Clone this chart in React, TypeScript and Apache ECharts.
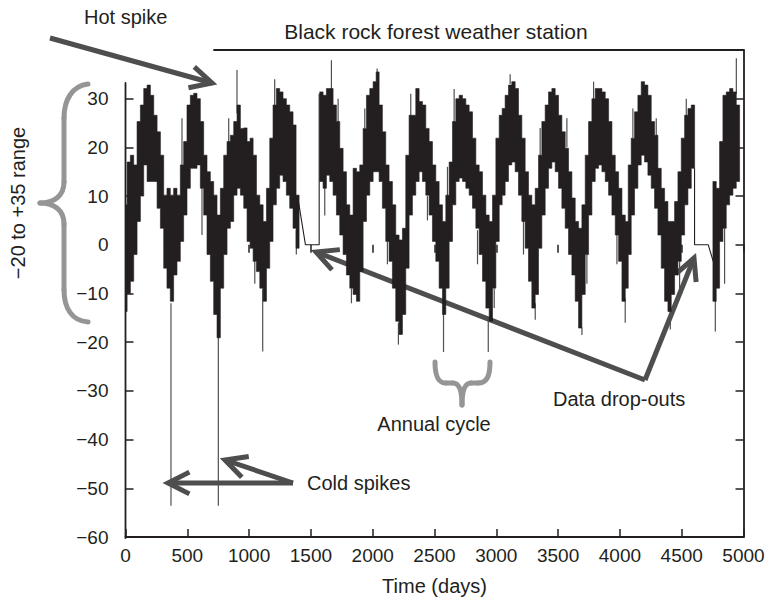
import React, { useEffect, useRef } from 'react';
import * as echarts from 'echarts';

// ---- data ----
// envelope of the daily temperature trace (one sample every ~27 days)
const envDay = [
  0, 26, 53, 80, 107, 134, 161, 188, 215, 242, 269, 296, 322, 349, 376, 403, 430, 457, 484, 511,
  538, 565, 592, 619, 646, 673, 700, 727, 754, 781, 808, 835, 862, 889, 916, 943, 970, 997,
  1019, 1046, 1073, 1100, 1127, 1154, 1180, 1207, 1234, 1261, 1288, 1315, 1342, 1369, 1391,
  1585, 1612, 1639, 1666, 1693, 1720, 1747, 1774, 1801, 1828, 1855, 1882, 1909, 1936, 1963, 1990, 2017,
  2039, 2065, 2092, 2119, 2146, 2173, 2200, 2227, 2254, 2281, 2308, 2335, 2362, 2389, 2416, 2443, 2470,
  2497, 2524, 2551, 2578, 2605, 2632, 2659, 2686, 2713, 2740, 2767, 2794, 2821, 2848, 2875, 2902, 2929,
  2956, 2983, 3010, 3037,
  3058, 3085, 3112, 3139, 3166, 3193, 3220, 3247, 3274, 3301, 3328, 3355, 3382, 3409, 3436, 3463, 3490,
  3517, 3544, 3571, 3598, 3625, 3652, 3679, 3706, 3733, 3760, 3787, 3814, 3841, 3868, 3895, 3922, 3949,
  3976, 4003, 4030, 4057,
  4078, 4105, 4132, 4159, 4186, 4213, 4240, 4267, 4294, 4321, 4348, 4375, 4402, 4429, 4456, 4483, 4510,
  4537, 4564, 4591,
  4766, 4793, 4820, 4847, 4874, 4901, 4928, 4955,
];
const envHigh = [
  8.2, 17, 18.4, 16.4, 25.3, 28.7, 32.1, 32.8, 30.7, 26.6, 23.2, 18.4, 10.2, 11.6, 10.2, 11.6, 10.2, 16.4, 21.2, 28.7,
  30.7, 31.1, 30, 25.3, 18.4, 15, 13, 10.2, 6.1, 11.6, 18.4, 21.2, 22.5, 25.3, 28.7, 23.9, 24, 21.2,
  21.9, 18.4, 10.2, 8.2, 4.8, 11.6, 21.9, 28.7, 32.1, 31.4, 30, 28.7, 27.3, 24.6, 10.2,
  31.4, 30.7, 32.1, 32.1, 28.7, 25.3, 19.8, 15, 8.2, 6.1, 15.7, 15, 16.4, 23.9, 30.7, 32.1, 33.5,
  35.5, 28.7, 23.2, 16.4, 13, 8.2, 2, 1, 3.4, 18.4, 26.6, 26.6, 32.1, 29.4, 28.7, 23.9, 21.2,
  16.4, 13, 8.2, 4.8, 10.2, 17, 25.3, 30, 30.7, 30, 28.7, 27.3, 21.9, 16.4, 15, 10.2, 6.1,
  4.8, 10.2, 21.9, 26.6,
  28, 30.7, 32.8, 33.5, 32.1, 26.6, 21.9, 15, 10.2, 8.2, 11.6, 18.4, 25.3, 28.7, 31.4, 32.1, 30.7,
  26.6, 23.2, 19.8, 15, 9.6, 4.8, 3.4, 8.2, 18.4, 25.3, 30, 32.1, 32.1, 31.4, 30, 25.3, 18.4,
  15, 11.6, 6.1, 4.8,
  16.4, 21.9, 27.3, 30.7, 33.5, 32.8, 30.7, 25.3, 22.5, 15.7, 11.6, 8.9, 4.8, 4.8, 8.9, 15, 21.9,
  26.6, 28, 28.7,
  13, 11.6, 21.2, 30.7, 31.4, 32.1, 31.4, 28.7,
];
const envLow = [
  -13.7, -10, -7.5, -2, 4.8, 10, 16.4, 13, 13, 13, 7.5, 3.4, -4.8, -8.9, -11.6, -6.2, -3.4, 0.7, 6.1, 11.6,
  15.7, 15.7, 16.4, 11.6, 6.1, -2, -7.5, -14.3, -19.1, -8.9, -2, 3.4, 4.8, 10.2, 11.6, 10.2, 7.5, 0.7,
  -0.7, -3.4, -5.5, -8.9, -11.6, -4.8, 0.7, 8.2, 11.6, 14.3, 13, 10.2, 7.5, 3.4, -0.7,
  13, 11.6, 14.3, 13, 10.2, 6.1, 2, -2, -6.2, -8.9, -10.2, -11.6, -5.5, 4.8, 10.2, 13, 15,
  15, 13, 7.5, 0.7, -3.4, -8.9, -15.7, -18.4, -14.3, -4.8, 6.1, 10.2, 13, 15, 13, 10.2, 6.1,
  0.7, -3.4, -8.9, -14.3, -8.9, 0.7, 8.2, 13, 13.7, 13, 11.6, 10.2, 7.5, 3.4, -2, -7.5, -13,
  -15.7, -8.9, 0.7, 8.2,
  10.2, 13, 16.4, 17, 15, 10.2, 4.8, -0.7, -7.5, -13, -10.2, -0.7, 6.1, 11.6, 15.7, 17, 15,
  11.6, 7.5, 3.4, -2, -6.2, -11.6, -17.1, -10.2, -2, 6.1, 13, 15.7, 16.4, 15, 13, 10.2, 6.1,
  2, -3.4, -11.6, -8.9,
  -2, 6.1, 11.6, 16.4, 18.4, 17, 14.3, 11.6, 7.5, 2, -4.8, -11.6, -13.7, -10.2, -6.2, -3.4, 2,
  8.2, 11.6, 15.7,
  -11.6, -8.9, 0.7, 3.4, 8.2, 10.2, 11.6, 13,
];

// isolated hot / cold spikes: day, value the stroke leaves the band at, spike value
const spikeDay = [368, 751, 902, 1110, 1666, 2036, 2208, 2573, 2935, 3315, 3693, 4043, 4408, 4772, 4942,
  457, 619, 835, 1046, 1207, 1382, 1612, 1720, 1828, 1936, 2119, 2308, 2443, 2605, 2659, 2848, 2983,
  3112, 3220, 3355, 3571, 3733, 3787, 3976, 4105, 4294, 4483, 4537, 4847];
const spikeFrom = [-12, -19, 27, -9, 32, 34, -16, -14, -15, -12, -17, -11, -13, -11, 31,
  16, 11.6, 21, -3.4, 28.7, 3, 11.6, 25, -9, 24, 0.7, 26, 10, 10, 25, 3, -9,
  33, 5, 18, 20, -2, 30, 2, 22, 22, -3.4, 26, 3.4];
const spikeTo = [-53.6, -53.6, 35.9, -21.9, 37.9, 36.2, -20.5, -22, -22, -15.4, -18.5, -16, -17.4, -17.8, 38.3,
  26, 2, 26, -8, 34, -2, 6, 30, -12, 28, -4, 31, 5, 16, 32, -4, -13,
  35, -2, 24, 26, -8, 33.5, -4, 28, 26, -10, 30, -8];

// data drop-outs (straight line joins across missing data)
const gap1Day = [1391, 1456, 1567, 1567];
const gap1Val = [10.2, 0, 0, 31];
const gap2Day = [4604, 4604, 4715, 4755];
const gap2Val = [15.7, 0, 0, -3.4];

const yTickValues = [-60, -50, -40, -30, -20, -10, 0, 10, 20, 30];
const topTickValues = [1000, 1500, 2000, 2500, 3000, 3500, 4000, 4500, 5000];

const FONT = '"Liberation Sans", Arial, Helvetica, sans-serif';
const INK = '#231f20';
const ARROW = '#4e4e4e';
const BRACE = '#959595';

function txt(text: string, x: number, y: number, align: string, size = 20, rotation = 0) {
  return {
    type: 'text', x, y, rotation, silent: true,
    style: {
      text, fill: INK, fontSize: size, fontFamily: FONT,
      textAlign: align, align, textVerticalAlign: 'middle', verticalAlign: 'middle',
    },
  };
}

function arrow(tx: number, ty: number, hx: number, hy: number, len = 24, ang = 0.47) {
  const a = Math.atan2(ty - hy, tx - hx);
  const w1 = [hx + len * Math.cos(a + ang), hy + len * Math.sin(a + ang)];
  const w2 = [hx + len * Math.cos(a - ang), hy + len * Math.sin(a - ang)];
  return [
    { type: 'line', silent: true, shape: { x1: tx, y1: ty, x2: hx, y2: hy }, style: { stroke: ARROW, lineWidth: 5 } },
    { type: 'polyline', silent: true, shape: { points: [w1, [hx, hy], w2] }, style: { stroke: ARROW, lineWidth: 5, fill: null, lineJoin: 'miter' } },
  ];
}

function bez(x1: number, y1: number, cpx1: number, cpy1: number, cpx2: number, cpy2: number, x2: number, y2: number) {
  return { type: 'bezierCurve', silent: true, shape: { x1, y1, cpx1, cpy1, cpx2, cpy2, x2, y2 }, style: { stroke: BRACE, lineWidth: 5, fill: null, lineCap: 'round' } };
}
function seg(x1: number, y1: number, x2: number, y2: number, stroke = BRACE, lineWidth = 5) {
  return { type: 'line', silent: true, shape: { x1, y1, x2, y2 }, style: { stroke, lineWidth, lineCap: 'round' } };
}

// continuous runs of the envelope (split at the drop-outs)
function runs(): number[][] {
  const out: number[][] = [];
  let start = 0;
  for (let i = 1; i <= envDay.length; i++) {
    if (i === envDay.length || envDay[i] - envDay[i - 1] > 100) {
      out.push([start, i - 1]);
      start = i;
    }
  }
  return out;
}

export default function App() {
  const ref = useRef<HTMLDivElement>(null);
  useEffect(() => {
    if (!ref.current) return;
    const chart = echarts.init(ref.current, null, { renderer: 'svg' });
    const spikes = spikeDay.map((d, i) => [d, spikeFrom[i], spikeTo[i]]);
    const fmt = (v: number) => String(v).replace('-', '\u2212');
    const axisText = { fontSize: 19, color: INK, fontFamily: FONT };
    const bandRuns = runs().map(([s, e]) => [envDay[s], envDay[e], s, e]);

    const graphic: any[] = [
      // partial box lines (top-left corner is open in the original)
      seg(214, 50, 743.5, 50, INK, 1.8),
      seg(125.5, 83, 125.5, 538, INK, 1.8),
      txt('Black rock forest weather station', 436, 31, 'center', 21),
      txt('Hot spike', 84, 17, 'left'),
      txt('\u221220 to +35 range', 18, 203, 'center', 20, Math.PI / 2),
      txt('Annual cycle', 434, 424, 'center'),
      txt('Data drop-outs', 553, 399, 'left'),
      txt('Cold spikes', 307, 483, 'left'),
      ...arrow(50, 38, 212, 83),
      ...arrow(293, 483, 168, 483),
      ...arrow(293, 483, 225, 460),
      ...arrow(645, 380, 316, 252),
      ...arrow(645, 380, 694, 258),
      // left brace
      bez(88, 84, 72, 86, 64, 100, 64, 118),
      seg(64, 118, 64, 182),
      bez(64, 182, 64, 196, 54, 203, 40, 203),
      bez(40, 203, 54, 203, 64, 210, 64, 224),
      seg(64, 224, 64, 290),
      bez(64, 290, 64, 308, 72, 321, 88, 322),
      // annual-cycle brace
      bez(435, 362, 435, 376, 438, 383, 446, 383),
      seg(446, 383, 453, 383),
      bez(453, 383, 460, 383, 462, 392, 462, 405),
      bez(462, 405, 462, 392, 464, 383, 471, 383),
      seg(471, 383, 478, 383),
      bez(478, 383, 487, 383, 490, 376, 490, 362),
    ];

    chart.setOption({
      animation: false,
      backgroundColor: '#ffffff',
      grid: { left: 125.5, right: 24.5, top: 50, bottom: 63, containLabel: false },
      xAxis: [
        {
          type: 'value', min: 0, max: 5000, interval: 500, position: 'bottom',
          axisLine: { show: true, onZero: false, lineStyle: { color: INK, width: 1.8 } },
          axisTick: { show: true, inside: true, length: 8, lineStyle: { color: INK, width: 1.5 } },
          axisLabel: { ...axisText, margin: 9, formatter: (v: number) => String(v) },
          splitLine: { show: false },
          name: 'Time (days)', nameLocation: 'middle', nameGap: 39,
          nameTextStyle: { fontSize: 20, color: INK, fontFamily: FONT },
        },
        {
          type: 'value', min: 0, max: 5000, interval: 500, position: 'top',
          axisLine: { show: false },
          axisTick: { show: true, inside: true, length: 8, customValues: topTickValues, lineStyle: { color: INK, width: 1.5 } },
          axisLabel: { show: false },
          splitLine: { show: false },
        },
      ],
      yAxis: [
        {
          type: 'value', min: -60, max: 40, interval: 10, position: 'left',
          axisLine: { show: false },
          axisTick: { show: true, inside: true, length: 8, customValues: yTickValues, lineStyle: { color: INK, width: 1.5 } },
          axisLabel: { ...axisText, margin: 17, customValues: yTickValues, formatter: (v: number) => (v >= 40 ? '' : fmt(v)) },
          splitLine: { show: false },
        },
        {
          type: 'value', min: -60, max: 40, interval: 10, position: 'right',
          axisLine: { show: true, onZero: false, lineStyle: { color: INK, width: 1.8 } },
          axisTick: { show: true, inside: true, length: 8, lineStyle: { color: INK, width: 1.5 } },
          axisLabel: { show: false },
          splitLine: { show: false },
        },
      ],
      series: [
        {
          type: 'custom', name: 'spikes', xAxisIndex: 0, yAxisIndex: 0, clip: true, z: 2,
          encode: { x: 0, y: [1, 2] },
          data: spikes,
          renderItem: (_p: any, api: any) => {
            const a = api.coord([api.value(0), api.value(1)]);
            const b = api.coord([api.value(0), api.value(2)]);
            return { type: 'line', shape: { x1: a[0], y1: a[1], x2: b[0], y2: b[1] }, style: { stroke: '#505050', lineWidth: 1.2 } };
          },
        },
        {
          // the temperature band: one stepped polygon per continuous run of samples
          type: 'custom', name: 'temperature', xAxisIndex: 0, yAxisIndex: 0, clip: true, z: 3,
          encode: { x: [0, 1] },
          data: bandRuns,
          renderItem: (_p: any, api: any) => {
            const s = api.value(2) as number;
            const e = api.value(3) as number;
            const edge = (i: number) =>
              i === s ? envDay[s] - 13.5 : i === e + 1 ? envDay[e] + 13.5 : (envDay[i - 1] + envDay[i]) / 2;
            const top: number[][] = [];
            const bottom: number[][] = [];
            for (let i = s; i <= e; i++) {
              const a = edge(i);
              const b = edge(i + 1);
              top.push(api.coord([a, envHigh[i]]), api.coord([b, envHigh[i]]));
              bottom.push(api.coord([a, envLow[i]]), api.coord([b, envLow[i]]));
            }
            const points = top.concat(bottom.reverse());
            return { type: 'polygon', shape: { points }, style: { fill: INK, stroke: INK, lineWidth: 0.6 } };
          },
        },
        {
          type: 'line', name: 'gap1', xAxisIndex: 0, yAxisIndex: 0, symbol: 'none', z: 3,
          data: gap1Day.map((d, i) => [d, gap1Val[i]]),
          lineStyle: { color: INK, width: 1.1 },
        },
        {
          type: 'line', name: 'gap2', xAxisIndex: 0, yAxisIndex: 0, symbol: 'none', z: 3,
          data: gap2Day.map((d, i) => [d, gap2Val[i]]),
          lineStyle: { color: INK, width: 1.1 },
        },
      ],
      graphic,
    });
    return () => chart.dispose();
  }, []);
  return <div ref={ref} style={{ position: 'fixed', left: 0, top: 0, width: 768, height: 601, background: '#fff' }} />;
}
